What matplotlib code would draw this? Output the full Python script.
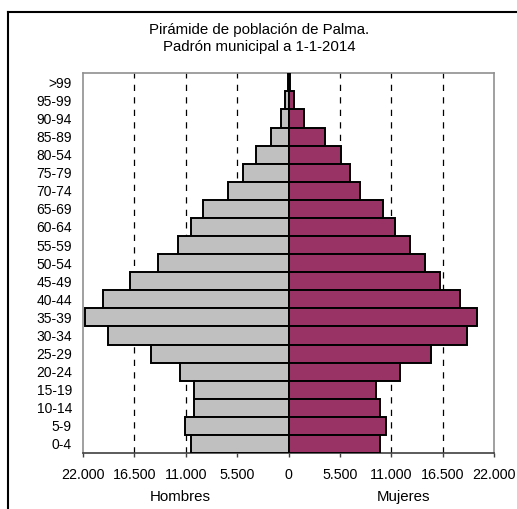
import matplotlib
matplotlib.use("Agg")
import matplotlib.pyplot as plt
from matplotlib.lines import Line2D
from matplotlib.ticker import FuncFormatter

plt.rcParams['font.family'] = ['Liberation Sans', 'DejaVu Sans']

age_groups = [">99", "95-99", "90-94", "85-89", "80-54", "75-79", "70-74", "65-69",
              "60-64", "55-59", "50-54", "45-49", "40-44", "35-39", "30-34", "25-29",
              "20-24", "15-19", "10-14", "5-9", "0-4"]
hombres = [60, 350, 780, 1850, 3460, 4850, 6450, 9130, 10420, 11800, 13980, 17000,
           19870, 21830, 19330, 14700, 11660, 10170, 10170, 11130, 10420]
mujeres = [130, 560, 1700, 3900, 5670, 6600, 7630, 10130, 11380, 13020, 14590, 16200,
           18330, 20150, 19080, 15300, 11900, 9420, 9770, 10490, 9770]
x_ticks = [-22000, -16500, -11000, -5500, 0, 5500, 11000, 16500, 22000]
grid_x = [-16500, -11000, -5500, 5500, 11000, 16500]

W, H = 517, 509
fig = plt.figure(figsize=(W / 100, H / 100), dpi=100)
ax = fig.add_axes([83 / W, 1 - 453 / H, (494 - 83) / W, (453 - 73.3) / H])

n = len(age_groups)
ypos = [n - 1 - i for i in range(n)]

for gx in grid_x:
    ax.axvline(gx, color='black', lw=0.9, ls=(0, (5, 5)), zorder=1)

ax.barh(ypos, [-v for v in hombres], height=1.0, color='#C0C0C0',
        edgecolor='black', linewidth=1.4, zorder=3)
ax.barh(ypos, mujeres, height=1.0, color='#993366',
        edgecolor='black', linewidth=1.4, zorder=3)

ax.set_xlim(-22000, 22000)
ax.set_ylim(-0.5, n - 0.5)
ax.set_xticks(x_ticks)
ax.xaxis.set_major_formatter(FuncFormatter(lambda v, p: f"{abs(int(v)):,}".replace(",", ".")))
ax.set_yticks(ypos)
ax.set_yticklabels(age_groups)
ax.tick_params(axis='y', length=0, pad=8, labelsize=10)
ax.tick_params(axis='x', length=3, width=1, direction='out', pad=8, labelsize=10.3, color='#404040')

for side in ['top', 'right', 'left']:
    ax.spines[side].set_color('#909090')
    ax.spines[side].set_linewidth(1.2)
ax.spines['bottom'].set_color('#404040')
ax.spines['bottom'].set_linewidth(1.2)

fig.text(259 / W, 1 - 30 / H, "Pirámide de población de Palma.", ha='center', va='center', fontsize=10.8)
fig.text(259 / W, 1 - 47 / H, "Padrón municipal a 1-1-2014", ha='center', va='center', fontsize=10.8)
fig.text(180 / W, 1 - 497 / H, "Hombres", ha='center', va='center', fontsize=10.8)
fig.text(403 / W, 1 - 497 / H, "Mujeres", ha='center', va='center', fontsize=10.8)

fig.add_artist(Line2D([8 / W, 8 / W], [-0.05, 1 - 12 / H], transform=fig.transFigure, color='black', lw=1.5))
fig.add_artist(Line2D([8 / W, 1.05], [1 - 12 / H, 1 - 12 / H], transform=fig.transFigure, color='black', lw=1.5))

fig.savefig("out.png", dpi=100)
